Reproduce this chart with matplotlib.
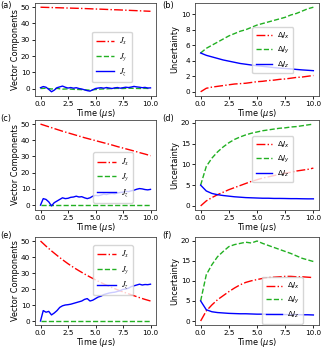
import numpy as np
import matplotlib.pyplot as plt
from matplotlib.font_manager import FontProperties

# time grids
t = np.linspace(0, 10, 21)
t_fine = np.linspace(0, 10, 41)

# (a)
jx_a = [50, 49.9, 49.8, 49.7, 49.6, 49.5, 49.4, 49.3, 49.2, 49.05, 48.9,
        48.8, 48.65, 48.5, 48.4, 48.25, 48.1, 47.95, 47.8, 47.65, 47.5]
jy_a = [0, 0.2, -0.3, 0.1, -0.4, -0.2, -0.5, -0.6, -0.8, -1.0, -0.6,
        -0.3, -0.2, 0.0, 0.1, 0.0, 0.2, 0.1, 0.0, 0.1, 0.0]
jz_a = [0.5, 1.2, 0.8, -0.5, -2.0, -1.0, 0.5, 1.0, 1.5, 0.8, 0.3, 0.6, 0.2, 0.5,
        0.0, -0.3, -0.8, -1.3, -1.6, -0.8, 0.0, 0.3, 0.5, 0.2, 0.6, 0.3, 0.0,
        0.4, 0.6, 0.2, 0.5, 0.8, 0.6, 0.9, 1.3, 1.0, 0.8, 0.5, 0.7, 0.3, 0.4]

# (b)
djx_b = [0, 0.45, 0.6, 0.7, 0.8, 0.9, 1.0, 1.05, 1.1, 1.2, 1.3,
         1.35, 1.45, 1.5, 1.6, 1.65, 1.75, 1.85, 1.9, 2.0, 2.1]
djy_b = [5.0, 5.6, 6.0, 6.4, 6.8, 7.2, 7.5, 7.8, 8.0, 8.3, 8.6,
         8.8, 9.0, 9.2, 9.4, 9.6, 9.9, 10.1, 10.4, 10.7, 10.9]
djz_b = [5.0, 4.7, 4.5, 4.3, 4.1, 3.95, 3.8, 3.65, 3.55, 3.45, 3.35,
         3.28, 3.2, 3.12, 3.05, 3.0, 2.95, 2.88, 2.82, 2.77, 2.72]

# (c)
jx_c = [50, 48.9, 47.8, 46.7, 45.6, 44.6, 43.6, 42.6, 41.6, 40.7, 39.8,
        38.9, 38.0, 37.1, 36.1, 35.2, 34.3, 33.4, 32.4, 31.5, 30.5]
jy_c = [0] * 21
jz_c = [0, 4.0, 3.5, 2.0, -0.5, 1.5, 2.5, 3.5, 4.5, 4.0, 4.2, 4.8, 5.0, 5.5,
        5.0, 5.2, 4.5, 4.0, 4.5, 5.5, 6.0, 5.8, 6.2, 6.8, 6.5, 7.0, 7.2,
        7.0, 7.5, 7.8, 8.0, 8.5, 8.3, 8.8, 9.2, 9.8, 10.2, 10.0, 9.6, 9.4, 9.7]

# (d)
djx_d = [0, 1.2, 2.0, 2.7, 3.3, 3.9, 4.4, 4.9, 5.4, 5.9, 6.3,
         6.7, 7.0, 7.3, 7.6, 7.9, 8.1, 8.4, 8.6, 8.8, 9.1]
djy_d = [5, 9.5, 11.5, 13, 14.2, 15.2, 16.0, 16.6, 17.1, 17.5, 17.8,
         18.1, 18.3, 18.5, 18.7, 18.8, 19.0, 19.1, 19.3, 19.5, 19.7]
djz_d = [5, 3.6, 3.0, 2.7, 2.5, 2.35, 2.2, 2.1, 2.0, 1.95, 1.9,
         1.85, 1.85, 1.8, 1.8, 1.78, 1.75, 1.75, 1.72, 1.7, 1.7]

# (e)
jx_e = [50, 46.8, 43.8, 41.0, 38.3, 35.8, 33.5, 31.4, 29.4, 27.5, 25.7,
        24.0, 22.4, 20.9, 19.5, 18.2, 17.0, 15.8, 14.6, 13.5, 12.5]
jy_e = [0] * 21
jz_e = [0, 6.5, 5.5, 6.0, 3.8, 5.0, 6.5, 8.5, 9.5, 10.0, 10.2, 10.5, 11.0, 11.5,
        12.0, 12.5, 13.5, 14.0, 12.5, 13.0, 14.0, 15.0, 15.5, 16.5, 17.0, 17.5,
        17.8, 18.0, 18.5, 19.0, 19.8, 20.0, 20.5, 21.5, 22.0, 22.5, 23.0, 22.5,
        22.8, 22.7, 23.0]

# (f)
djx_f = [0, 2.5, 4.0, 5.3, 6.3, 7.3, 8.2, 9.0, 9.6, 10.0, 10.3,
         10.6, 10.8, 10.9, 11.0, 11.1, 11.1, 11.0, 11.0, 10.9, 10.8]
djy_f = [5, 11.5, 14.0, 16.0, 17.3, 18.5, 19.0, 19.3, 19.6, 19.4, 19.9,
         19.3, 18.8, 18.3, 17.8, 17.3, 16.8, 16.2, 15.6, 15.2, 14.8]
djz_f = [5, 2.8, 2.3, 2.1, 2.0, 1.9, 1.85, 1.8, 1.8, 1.75, 1.7,
         1.7, 1.7, 1.65, 1.65, 1.6, 1.6, 1.6, 1.55, 1.55, 1.5]

left_yticks = [0, 10, 20, 30, 40, 50]
right_yticks = [[0, 2, 4, 6, 8, 10], [0, 5, 10, 15, 20], [0, 5, 10, 15, 20]]

tick_fs = 5.2
label_fs = 5.9
leg_fs = 5.4

fig = plt.figure(figsize=(3.24, 3.5), dpi=100)
W, H = 324, 350


def axes_px(x0, x1, y0, y1):
    return fig.add_axes([x0 / W, 1 - y1 / H, (x1 - x0) / W, (y1 - y0) / H])


rows = [(3, 96), (120, 210), (237, 325)]
left_axes = [axes_px(35, 156, y0, y1) for y0, y1 in rows]
right_axes = [axes_px(195, 319, y0, y1) for y0, y1 in rows]

left_data = [(jx_a, jy_a, jz_a), (jx_c, jy_c, jz_c), (jx_e, jy_e, jz_e)]
right_data = [(djx_b, djy_b, djz_b), (djx_d, djy_d, djz_d), (djx_f, djy_f, djz_f)]
left_leg = [(0.47, 0.69), (0.48, 0.64), (0.48, 0.91)]
right_leg = [(0.46, 0.74), (0.46, 0.82), (0.54, 0.54)]

lw = 1.0
green = '#22b022'
serif_math = FontProperties(size=leg_fs + 0.6, math_fontfamily='stix')
leg_kw = dict(loc='upper left', handlelength=2.2, labelspacing=0.45,
              borderaxespad=0, handletextpad=0.6, borderpad=0.5)

for ax, (jx, jy, jz), pos in zip(left_axes, left_data, left_leg):
    ax.plot(t, jx, color='red', ls='-.', lw=lw, label=r'$J_x$')
    ax.plot(t, jy, color=green, ls='--', lw=lw, label=r'$J_y$')
    ax.plot(t_fine, jz, color='blue', ls='-', lw=lw, label=r'$J_z$')
    ax.set_yticks(left_yticks)
    ax.set_ylabel('Vector Components', fontsize=label_fs, labelpad=1)
    ax.legend(bbox_to_anchor=pos, prop=serif_math, **leg_kw)

for ax, (dx, dy, dz), pos, yt in zip(right_axes, right_data, right_leg, right_yticks):
    ax.plot(t, dx, color='red', ls='-.', lw=lw, label=r'$\Delta J_x$')
    ax.plot(t, dy, color=green, ls='--', lw=lw, label=r'$\Delta J_y$')
    ax.plot(t, dz, color='blue', ls='-', lw=lw, label=r'$\Delta J_z$')
    ax.set_yticks(yt)
    ax.set_ylabel('Uncertainty', fontsize=label_fs, labelpad=1)
    ax.legend(bbox_to_anchor=pos, fontsize=leg_fs, **leg_kw)

for ax in left_axes + right_axes:
    ax.set_xticks([0, 2.5, 5, 7.5, 10])
    ax.set_xticklabels(['0.0', '2.5', '5.0', '7.5', '10.0'])
    ax.set_xlabel(r'Time ($\mu$s)', fontsize=label_fs, labelpad=0)
    ax.tick_params(length=2.5, width=0.6, pad=1.0, labelsize=tick_fs)
    for s in ax.spines.values():
        s.set_linewidth(0.6)
        s.set_color('#444444')

labels = ['(a)', '(b)', '(c)', '(d)', '(e)', '(f)']
label_pos = [(0, 1), (162, 1), (0, 114), (162, 114), (0, 231), (162, 231)]
for lab, (x, y) in zip(labels, label_pos):
    fig.text(x / W, 1 - y / H, lab, ha='left', va='top', fontsize=label_fs)

fig.savefig('out.png', dpi=100)
